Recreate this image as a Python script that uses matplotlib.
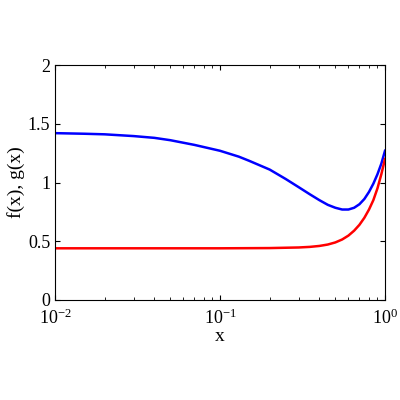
import matplotlib
matplotlib.use("Agg")
import matplotlib.pyplot as plt

plt.rcParams['font.family'] = ['Liberation Serif', 'DejaVu Serif']

x_blue = [0.01, 0.015, 0.02, 0.03, 0.04, 0.05, 0.07, 0.1, 0.13, 0.15, 0.2, 0.25, 0.3, 0.35, 0.4, 0.45, 0.5, 0.55, 0.6, 0.65, 0.7, 0.75, 0.8, 0.85, 0.9, 0.95, 1.0]
y_blue = [1.42, 1.415, 1.41, 1.395, 1.38, 1.36, 1.32, 1.27, 1.22, 1.185, 1.11, 1.03, 0.96, 0.90, 0.85, 0.81, 0.785, 0.77, 0.77, 0.785, 0.815, 0.86, 0.92, 0.99, 1.07, 1.16, 1.27]
x_red = [0.01, 0.05, 0.1, 0.2, 0.3, 0.35, 0.4, 0.45, 0.5, 0.55, 0.6, 0.65, 0.7, 0.75, 0.8, 0.85, 0.9, 0.95, 1.0]
y_red = [0.44, 0.44, 0.44, 0.442, 0.447, 0.452, 0.46, 0.472, 0.49, 0.515, 0.548, 0.59, 0.64, 0.70, 0.77, 0.85, 0.95, 1.07, 1.2]

fig = plt.figure(figsize=(4, 4), dpi=100)
ax = fig.add_axes([0.1375, 0.25, 0.825, 0.5875])
ax.plot(x_blue, y_blue, color='blue', lw=1.8)
ax.plot(x_red, y_red, color='red', lw=1.8)
ax.set_xscale('log')
ax.set_xlim(0.01, 1)
ax.set_ylim(0, 2)
ax.set_yticks([0, 0.5, 1, 1.5, 2])
ax.set_yticklabels(['0', '0.5', '1', '1.5', '2'])
ax.tick_params(which='both', direction='in', top=True, right=True, labelsize=13)
ax.tick_params(axis='x', pad=6)
ax.set_xlabel('x', fontsize=14, labelpad=0)
ax.set_ylabel('f(x), g(x)', fontsize=14, labelpad=2)
fig.savefig('out.png')
